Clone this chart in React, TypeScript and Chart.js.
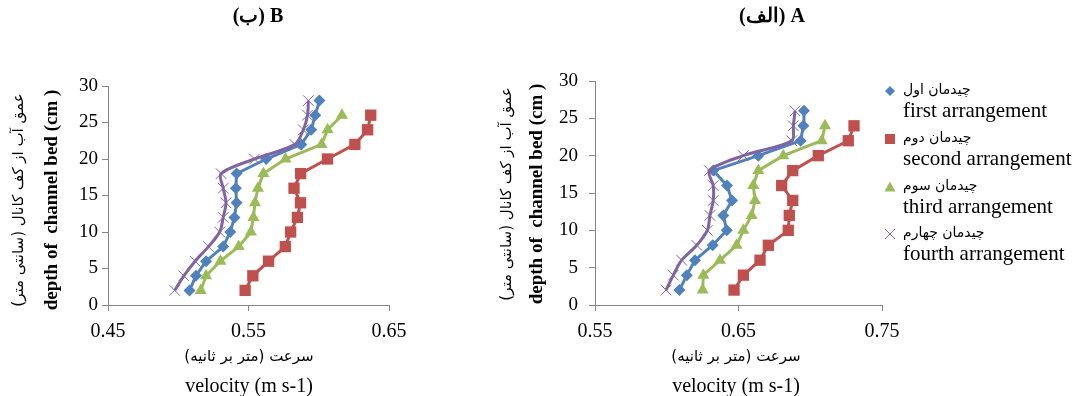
import React, { useEffect, useRef } from 'react';
import { Chart, registerables } from 'chart.js';
Chart.register(...registerables);

// ---------- data ----------
const depthsB28 = [2, 4, 6, 8, 10, 12, 14, 16, 18, 20, 22, 24, 26, 28];
const depthsB26 = [2, 4, 6, 8, 10, 12, 14, 16, 18, 20, 22, 24, 26];
const bFirst = [0.508, 0.5126, 0.5198, 0.532, 0.537, 0.54, 0.5415, 0.541, 0.5415, 0.5626, 0.5876, 0.5946, 0.5975, 0.6005];
const bSecond = [0.5476, 0.5531, 0.5643, 0.5762, 0.58, 0.5848, 0.587, 0.5824, 0.5871, 0.6062, 0.6257, 0.6348, 0.637];
const bThird = [0.516, 0.5198, 0.53, 0.543, 0.5517, 0.5535, 0.5546, 0.5567, 0.5606, 0.5763, 0.602, 0.6063, 0.6165];
const bFourth = [0.4975, 0.504, 0.512, 0.5215, 0.5295, 0.532, 0.534, 0.532, 0.5305, 0.5543, 0.583, 0.589, 0.592, 0.5926];

const depthsA26 = [2, 4, 6, 8, 10, 12, 14, 16, 18, 20, 22, 24, 26];
const depthsA24 = [2, 4, 6, 8, 10, 12, 14, 16, 18, 20, 22, 24];
const aFirst = [0.6088, 0.614, 0.6197, 0.632, 0.6418, 0.6394, 0.6455, 0.642, 0.6324, 0.6638, 0.6933, 0.6952, 0.6956];
const aSecond = [0.6469, 0.6534, 0.665, 0.6708, 0.6847, 0.6854, 0.6878, 0.6801, 0.6878, 0.7056, 0.7265, 0.7305];
const aThird = [0.625, 0.6255, 0.6371, 0.6487, 0.6534, 0.6592, 0.6615, 0.6603, 0.6638, 0.6812, 0.708, 0.7103];
const aFourth = [0.5995, 0.6046, 0.6104, 0.6209, 0.6283, 0.6301, 0.6324, 0.6324, 0.6297, 0.6534, 0.6871, 0.6882, 0.6894];

const xTicksB = [0.45, 0.55, 0.65];
const xTicksA = [0.55, 0.65, 0.75];
const yTicks = [0, 5, 10, 15, 20, 25, 30];

const seriesFa = ['چیدمان اول', 'چیدمان دوم', 'چیدمان سوم', 'چیدمان چهارم'];
const seriesEn = ['first arrangement', 'second arrangement', 'third arrangement', 'fourth arrangement'];
const titleB = '(ب) B';
const titleA = '(الف) A';
const yTitleFa = 'عمق آب از کف کانال (سانتی متر)';
const yTitleEn = 'depth of  channel bed (cm )';
const xTitleFa = 'سرعت (متر بر ثانیه)';
const xTitleEn = 'velocity (m s-1)';

// ---------- styles ----------
const COLORS = ['#4F81BD', '#C0504D', '#9BBB59', '#8064A2'];
const STYLES = ['rectRot', 'rect', 'triangle', 'crossRot'];
const RADII = [6, 8, 7, 7.5];
const SERIF = "'Liberation Serif', 'Times New Roman', serif";
const FA = "'DejaVu Sans', 'Noto Sans', sans-serif";

const pts = (xs: number[], ys: number[]) => xs.map((x, i) => ({ x, y: ys[i] }));

function makeDatasets(series: { xs: number[]; ys: number[] }[]) {
  return series.map((s, i) => ({
    label: seriesFa[i] + ' ' + seriesEn[i],
    data: pts(s.xs, s.ys),
    showLine: true,
    borderColor: COLORS[i],
    backgroundColor: COLORS[i],
    borderWidth: 3,
    pointStyle: STYLES[i],
    pointRadius: RADII[i],
    pointBorderWidth: i === 3 ? 1 : 0,
    pointBorderColor: COLORS[i],
    pointBackgroundColor: COLORS[i],
    tension: i === 3 ? 0.3 : 0,
    order: 4 - i,
  }));
}

type Txt = { t: string; x: number; y: number; font: string; rot?: boolean; rtl?: boolean; align?: CanvasTextAlign };

function textPlugin(id: string, items: Txt[], withLegend: boolean) {
  return {
    id,
    afterDraw(chart: any) {
      const ctx: CanvasRenderingContext2D = chart.ctx;
      items.forEach((it) => {
        ctx.save();
        ctx.translate(it.x, it.y);
        if (it.rot) ctx.rotate(-Math.PI / 2);
        ctx.font = it.font;
        ctx.fillStyle = '#000';
        ctx.textAlign = it.align || 'center';
        ctx.textBaseline = 'middle';
        (ctx as any).direction = it.rtl ? 'rtl' : 'ltr';
        ctx.fillText(it.t, 0, 0);
        ctx.restore();
      });
      if (withLegend) {
        const ca = chart.chartArea;
        const mx = ca.right + 8;
        const tx = ca.right + 21;
        const rowY = [91, 139, 187, 234];
        seriesFa.forEach((fa, i) => {
          const y = rowY[i];
          ctx.save();
          ctx.fillStyle = COLORS[i];
          ctx.strokeStyle = COLORS[i];
          ctx.beginPath();
          if (i === 0) {
            const r = 5;
            ctx.moveTo(mx, y - r); ctx.lineTo(mx + r, y); ctx.lineTo(mx, y + r); ctx.lineTo(mx - r, y); ctx.closePath(); ctx.fill();
          } else if (i === 1) {
            ctx.rect(mx - 5, y - 5, 10, 10); ctx.fill();
          } else if (i === 2) {
            ctx.moveTo(mx, y - 5.5); ctx.lineTo(mx + 5.5, y + 4.5); ctx.lineTo(mx - 5.5, y + 4.5); ctx.closePath(); ctx.fill();
          } else {
            ctx.lineWidth = 1;
            ctx.moveTo(mx - 5, y - 5); ctx.lineTo(mx + 5, y + 5);
            ctx.moveTo(mx + 5, y - 5); ctx.lineTo(mx - 5, y + 5); ctx.stroke();
          }
          ctx.restore();
          ctx.save();
          ctx.fillStyle = '#000';
          ctx.textBaseline = 'middle';
          ctx.textAlign = 'left';
          (ctx as any).direction = 'rtl';
          ctx.font = `14px ${FA}`;
          ctx.fillText(fa, tx, y - 1);
          (ctx as any).direction = 'ltr';
          ctx.font = `21px ${SERIF}`;
          ctx.fillText(seriesEn[i], tx, y + 20);
          ctx.restore();
        });
      }
    },
  };
}

function scaleOpts(ticks: number[], size: number, pad: number, fit: (s: any) => void, fmt: (v: number) => string) {
  return {
    type: 'linear' as const,
    min: ticks[0],
    max: ticks[ticks.length - 1],
    afterBuildTicks: (s: any) => { s.ticks = ticks.map((v) => ({ value: v })); },
    afterFit: fit,
    ticks: {
      autoSkip: false,
      maxRotation: 0,
      padding: pad,
      color: '#000',
      font: { family: SERIF, size },
      callback: (v: any) => fmt(Number(v)),
    },
    grid: { drawOnChartArea: false, drawTicks: true, tickLength: 6, color: '#868686' },
    border: { color: '#868686', width: 1 },
  };
}

function buildConfig(
  series: { xs: number[]; ys: number[] }[],
  xTicks: number[],
  canvasW: number,
  area: { left: number; right: number; top: number; bottom: number },
  yPad: number,
  texts: Txt[],
  withLegend: boolean,
  id: string
): any {
  return {
    type: 'scatter',
    data: { datasets: makeDatasets(series) },
    options: {
      animation: false,
      responsive: false,
      layout: { padding: { top: area.top, left: 0, right: canvasW - area.right, bottom: 0 } },
      plugins: { legend: { display: false }, tooltip: { enabled: false } },
      scales: {
        x: scaleOpts(xTicks, 20, 9, (s: any) => { s.height = 396 - area.bottom; }, (v) => v.toFixed(2)),
        y: scaleOpts(yTicks, 19, yPad, (s: any) => { s.width = area.left; }, (v) => String(v)),
      },
    },
    plugins: [textPlugin(id, texts, withLegend)],
  };
}

export default function App() {
  const refB = useRef<HTMLCanvasElement>(null);
  const refA = useRef<HTMLCanvasElement>(null);

  useEffect(() => {
    document.body.style.margin = '0';
    const bold = `bold 20px ${SERIF}`;
    const textsB: Txt[] = [
      { t: titleB, x: 258, y: 17, font: bold },
      { t: yTitleFa, x: 19, y: 200, font: `15px ${FA}`, rot: true, rtl: true },
      { t: yTitleEn, x: 52, y: 200, font: `bold 19px ${SERIF}`, rot: true },
      { t: xTitleFa, x: 249, y: 357, font: `15px ${FA}`, rtl: true },
      { t: xTitleEn, x: 249, y: 387, font: `20px ${SERIF}` },
    ];
    const offA = 440;
    const textsA: Txt[] = [
      { t: titleA, x: 772 - offA, y: 17, font: bold },
      { t: yTitleFa, x: 507 - offA, y: 194, font: `15px ${FA}`, rot: true, rtl: true },
      { t: yTitleEn, x: 537 - offA, y: 194, font: `bold 19px ${SERIF}`, rot: true },
      { t: xTitleFa, x: 736 - offA, y: 357, font: `15px ${FA}`, rtl: true },
      { t: xTitleEn, x: 736 - offA, y: 387, font: `20px ${SERIF}` },
    ];
    const chartB = new Chart(
      refB.current!,
      buildConfig(
        [
          { xs: bFirst, ys: depthsB28 },
          { xs: bSecond, ys: depthsB26 },
          { xs: bThird, ys: depthsB26 },
          { xs: bFourth, ys: depthsB28 },
        ],
        xTicksB,
        440,
        { left: 108, right: 389, top: 86, bottom: 305 },
        4,
        textsB,
        false,
        'txtB'
      )
    );
    const chartA = new Chart(
      refA.current!,
      buildConfig(
        [
          { xs: aFirst, ys: depthsA26 },
          { xs: aSecond, ys: depthsA24 },
          { xs: aThird, ys: depthsA24 },
          { xs: aFourth, ys: depthsA26 },
        ],
        xTicksA,
        632,
        { left: 595 - offA, right: 882 - offA, top: 81, bottom: 305 },
        11,
        textsA,
        true,
        'txtA'
      )
    );
    return () => {
      chartB.destroy();
      chartA.destroy();
    };
  }, []);

  return (
    <div style={{ position: 'absolute', left: 0, top: 0, width: 1072, height: 396, background: '#fff', overflow: 'hidden' }}>
      <canvas ref={refB} width={440} height={396} style={{ position: 'absolute', left: 0, top: 0, width: 440, height: 396 }} />
      <canvas ref={refA} width={632} height={396} style={{ position: 'absolute', left: 440, top: 0, width: 632, height: 396 }} />
    </div>
  );
}
